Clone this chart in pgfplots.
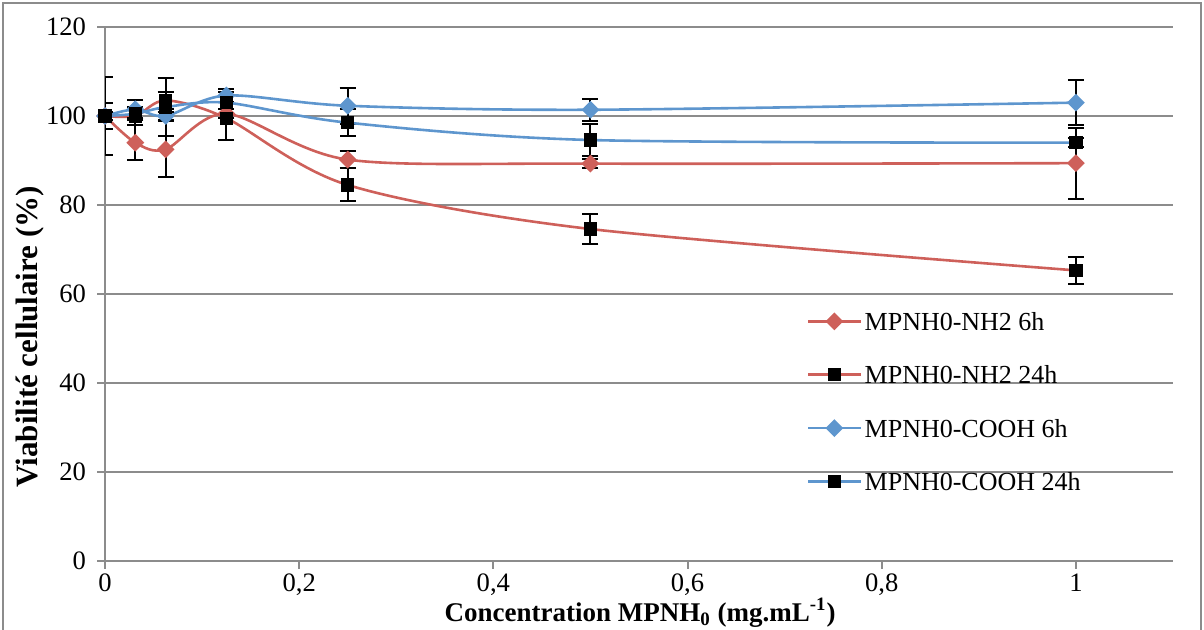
\documentclass[border=0pt]{standalone}
\usepackage{fontspec}
\setmainfont{Liberation Serif}
\usepackage{pgfplots}
\pgfplotsset{compat=1.18}
\usepackage{pgfplotstable}
\definecolor{exred}{RGB}{206,96,90}
\definecolor{exblue}{RGB}{94,150,206}
\definecolor{gridgray}{RGB}{140,140,140}

\pgfplotstableread{
x y e
0 100 1
0.03125 94 4
0.0625 92.5 6.3
0.125 100.5 1
0.25 90.2 2
0.5 89.3 1
1 89.4 8
}\nhsix
\pgfplotstableread{
x y e
0 100 8.7
0.03125 100 2
0.0625 103.5 2
0.125 99.5 5
0.25 84.5 3.7
0.5 74.6 3.4
1 65.3 3
}\nhtwentyfour
\pgfplotstableread{
x y e
0 100 1
0.03125 101.5 2
0.0625 100 1
0.125 104.6 1.5
0.25 102.3 4
0.5 101.4 2.5
1 103 5
}\cosix
\pgfplotstableread{
x y e
0 100 3
0.03125 100.5 1.5
0.0625 102 6.5
0.125 103 2.5
0.25 98.5 3
0.5 94.6 3.5
1 94 1
}\cotwentyfour

\begin{document}
\begin{tikzpicture}
\useasboundingbox (0,0) rectangle (602pt,315pt);
\draw[gridgray, line width=0.8pt] (1.5pt,-2pt) -- (1.5pt,313.5pt) -- (600.5pt,313.5pt) -- (600.5pt,-2pt);
\begin{axis}[
  at={(52.5pt,34.5pt)}, anchor=south west,
  scale only axis, width=534pt, height=267pt,
  xmin=0, xmax=1.1, ymin=0, ymax=120,
  xtick={0,0.2,0.4,0.6,0.8,1},
  xticklabels={0,{0,2},{0,4},{0,6},{0,8},1},
  ytick={0,20,40,60,80,100,120},
  yticklabels={0,20,40,60,80,100,120},
  axis x line*=bottom, axis y line*=left,
  axis line style={gridgray, line width=1pt, -},
  ymajorgrids, grid style={gridgray, line width=1pt},
  tick align=outside, major tick length=4pt,
  tick style={gridgray, line width=1pt},
  ticklabel style={font=\fontsize{13.3}{13.3}\selectfont},
  yticklabel style={xshift=-2pt},
  xticklabel style={yshift=1pt},
  ylabel={\bfseries Viabilité cellulaire (\%)},
  ylabel style={at={(axis description cs:-0.0702,0.42)}, anchor=center, font=\fontsize{15.5}{17}\selectfont},
  xlabel={\bfseries Concentration MPNH\textsubscript{0} (mg.mL\textsuperscript{-1})},
  xlabel style={at={(axis description cs:0.501,-0.097)}, anchor=center, font=\fontsize{13.5}{15}\selectfont},
  legend cell align=left,
  legend image code/.code={\draw[mark repeat=2,mark phase=2,#1] plot coordinates {(0pt,0pt) (13pt,0pt) (26pt,0pt)};},
  legend style={at={(axis description cs:0.657,0.472)}, anchor=north west, draw=none, fill=none,
    font=\fontsize{13}{13}\selectfont, row sep=14.7pt, inner sep=0pt,
    nodes={inner sep=1.5pt, text height=9pt, text depth=0pt}},
  error bars/error bar style={black, line width=1pt, solid},
  error bars/error mark options={rotate=90, mark size=4pt, black, line width=1pt},
]
\addplot[exred, line width=1.3pt, smooth, mark=square*, mark size=2.5pt,
  mark options={rotate=45, fill=exred, draw=exred, solid},
  error bars/.cd, y dir=both, y explicit]
  table[x=x, y=y, y error=e] {\nhsix};
\addlegendentry{MPNH0-NH2 6h}
\addplot[exred, line width=1.3pt, smooth, mark=square*, mark size=2.7pt,
  mark options={fill=black, draw=black, solid},
  error bars/.cd, y dir=both, y explicit]
  table[x=x, y=y, y error=e] {\nhtwentyfour};
\addlegendentry{MPNH0-NH2 24h}
\addplot[exblue, line width=1.3pt, smooth, mark=square*, mark size=2.5pt,
  mark options={rotate=45, fill=exblue, draw=exblue, solid},
  error bars/.cd, y dir=both, y explicit]
  table[x=x, y=y, y error=e] {\cosix};
\addlegendentry{MPNH0-COOH 6h}
\addplot[exblue, line width=1.3pt, smooth, mark=square*, mark size=2.7pt,
  mark options={fill=black, draw=black, solid},
  error bars/.cd, y dir=both, y explicit]
  table[x=x, y=y, y error=e] {\cotwentyfour};
\addlegendentry{MPNH0-COOH 24h}
\end{axis}
\end{tikzpicture}
\end{document}
